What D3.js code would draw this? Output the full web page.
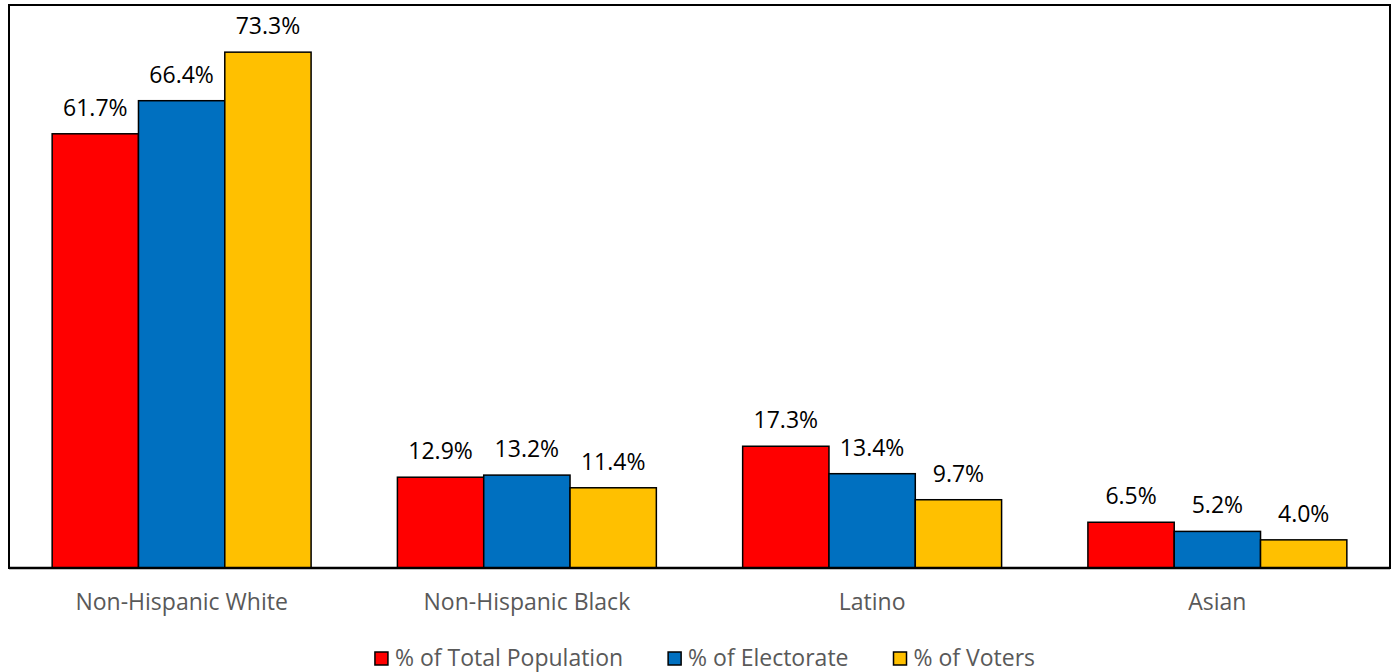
<!DOCTYPE html>
<html>
<head>
<meta charset="utf-8">
<script src="https://cdn.jsdelivr.net/npm/d3@7"></script>
<style>
  html, body { margin: 0; padding: 0; background: #fff; }
  svg { display: block; font-family: "Open Sans", sans-serif; }
</style>
</head>
<body>
<svg id="chart" width="1394" height="672"></svg>
<script>
// Share of each group in population, electorate and voters
const categories = ["Non-Hispanic White", "Non-Hispanic Black", "Latino", "Asian"];
const seriesNames = ["% of Total Population", "% of Electorate", "% of Voters"];
const totalPopulation = [61.7, 12.9, 17.3, 6.5];
const electorate = [66.4, 13.2, 13.4, 5.2];
const voters = [73.3, 11.4, 9.7, 4.0];
const seriesColors = ["#FF0000", "#0070C0", "#FFC000"];
const yDomain = [0, 80];

const seriesValues = [totalPopulation, electorate, voters];

const svg = d3.select("#chart");
const plot = { left: 9, right: 1390, top: 5, bottom: 568 };

const x0 = d3.scaleBand()
  .domain(categories)
  .range([plot.left, plot.right])
  .paddingInner(0.25)
  .paddingOuter(0.125);

const x1 = d3.scaleBand()
  .domain(seriesNames)
  .range([0, x0.bandwidth()])
  .padding(0);

const y = d3.scaleLinear().domain(yDomain).range([plot.bottom, plot.top]);

// Frame around the plot area
svg.append("rect")
  .attr("x", plot.left)
  .attr("y", plot.top)
  .attr("width", plot.right - plot.left)
  .attr("height", plot.bottom - plot.top)
  .attr("fill", "#fff")
  .attr("stroke", "#000")
  .attr("stroke-width", 2);

const rows = [];
categories.forEach((c, i) => {
  seriesNames.forEach((s, j) => {
    rows.push({ category: c, series: s, value: seriesValues[j][i], color: seriesColors[j] });
  });
});

// Bars
svg.append("g").selectAll("rect")
  .data(rows)
  .join("rect")
  .attr("x", d => x0(d.category) + x1(d.series))
  .attr("y", d => y(d.value))
  .attr("width", x1.bandwidth())
  .attr("height", d => y(0) - y(d.value))
  .attr("fill", d => d.color)
  .attr("stroke", "#000")
  .attr("stroke-width", 1.5);

// Value labels
svg.append("g").selectAll("text")
  .data(rows)
  .join("text")
  .attr("x", d => x0(d.category) + x1(d.series) + x1.bandwidth() / 2)
  .attr("y", d => y(d.value) - 18)
  .attr("text-anchor", "middle")
  .attr("font-size", 23)
  .attr("fill", "#000")
  .text(d => d.value.toFixed(1) + "%");

// Baseline axis
const xAxis = svg.append("g")
  .attr("transform", `translate(0,${plot.bottom})`)
  .call(d3.axisBottom(x0).tickSize(0).tickPadding(0));
xAxis.select(".domain").attr("stroke", "#000").attr("stroke-width", 2.5)
  .attr("d", `M${plot.left},0H${plot.right}`);
xAxis.selectAll(".tick text")
  .attr("dy", 0)
  .attr("y", 42)
  .attr("font-family", "Open Sans, sans-serif")
  .attr("font-size", 23)
  .attr("fill", "#595959");

// Legend
const legend = svg.append("g");
const items = legend.selectAll("g")
  .data(seriesNames)
  .join("g");
items.append("rect")
  .attr("width", 13)
  .attr("height", 13)
  .attr("y", -14)
  .attr("fill", (d, i) => seriesColors[i])
  .attr("stroke", "#000")
  .attr("stroke-width", 1.5);
items.append("text")
  .attr("x", 20)
  .attr("font-size", 23)
  .attr("fill", "#595959")
  .text(d => d);

const gap = 45;
let widths = [];
items.each(function () {
  widths.push(20 + d3.select(this).select("text").node().getComputedTextLength());
});
const totalWidth = d3.sum(widths) + gap * (widths.length - 1);
let cx = 705 - totalWidth / 2;
items.attr("transform", (d, i) => {
  const t = `translate(${cx},666)`;
  cx += widths[i] + gap;
  return t;
});
</script>
</body>
</html>
